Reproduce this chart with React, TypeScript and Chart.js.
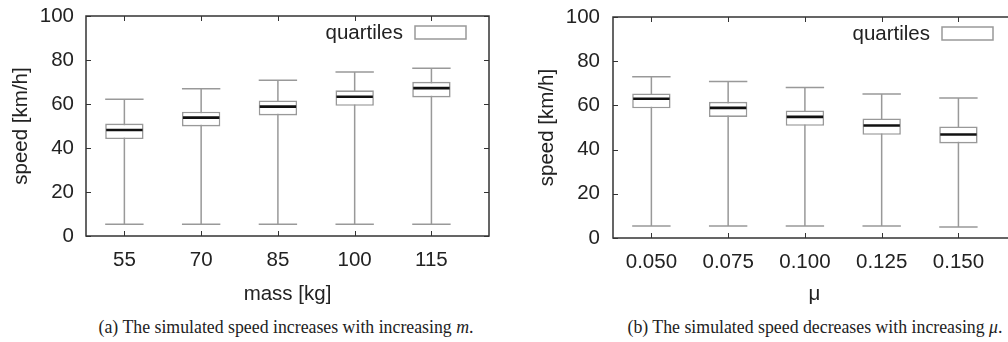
import React, { useEffect, useRef } from 'react';
import { Chart, registerables } from 'chart.js';

Chart.register(...registerables);

// ---- data: panel (a) mass ----
const massCategories = ['55', '70', '85', '100', '115'];
const massWhiskerLow = [5.3, 5.3, 5.3, 5.3, 5.3];
const massQ1 = [44.1, 49.8, 54.8, 59.2, 63.0];
const massMedian = [48.2, 53.8, 58.8, 63.3, 67.2];
const massQ3 = [51.1, 56.5, 61.6, 66.2, 70.1];
const massWhiskerHigh = [62.2, 66.9, 70.8, 74.6, 76.3];

// ---- data: panel (b) mu ----
const muCategories = ['0.050', '0.075', '0.100', '0.125', '0.150'];
const muWhiskerLow = [5.4, 5.4, 5.4, 5.4, 5.0];
const muQ1 = [58.7, 54.8, 50.8, 46.7, 42.8];
const muMedian = [63.0, 58.9, 54.8, 50.9, 46.8];
const muQ3 = [65.4, 61.6, 57.7, 54.1, 50.5];
const muWhiskerHigh = [73.0, 70.8, 68.1, 65.2, 63.3];

const yTickValues = [0, 20, 40, 60, 80, 100];
const legendLabel = 'quartiles';

const FONT = '"Liberation Sans", Arial, Helvetica, sans-serif';
const TEXT = '#222';
const BOX = '#999';

type PanelProps = {
  categories: string[];
  low: number[];
  q1: number[];
  median: number[];
  q3: number[];
  high: number[];
  xTitle: string;
  areaTop: number;
  areaBottom: number;
  yTitlePad: number;
  yTickPad: number;
};

const W = 527;
const H = 310;

function BoxPanel(p: PanelProps) {
  const ref = useRef<HTMLCanvasElement>(null);
  useEffect(() => {
    if (!ref.current) return;
    const plugin = {
      id: 'boxExtras',
      beforeDatasetsDraw(chart: any) {
        const { ctx } = chart;
        const y = chart.scales.y;
        const meta = chart.getDatasetMeta(0);
        ctx.save();
        ctx.strokeStyle = BOX;
        ctx.lineWidth = 1.5;
        meta.data.forEach((el: any, i: number) => {
          const { x, width } = el.getProps(['x', 'width'], true);
          const yl = y.getPixelForValue(p.low[i]);
          const yh = y.getPixelForValue(p.high[i]);
          ctx.beginPath();
          ctx.moveTo(x, yl);
          ctx.lineTo(x, yh);
          ctx.moveTo(x - width / 2, yl);
          ctx.lineTo(x + width / 2, yl);
          ctx.moveTo(x - width / 2, yh);
          ctx.lineTo(x + width / 2, yh);
          ctx.stroke();
        });
        ctx.restore();
      },
      afterDatasetsDraw(chart: any) {
        const { ctx } = chart;
        const y = chart.scales.y;
        const meta = chart.getDatasetMeta(0);
        ctx.save();
        ctx.strokeStyle = '#111';
        ctx.lineWidth = 2.6;
        meta.data.forEach((el: any, i: number) => {
          const { x, width } = el.getProps(['x', 'width'], true);
          const ym = y.getPixelForValue(p.median[i]);
          ctx.beginPath();
          ctx.moveTo(x - width / 2 + 1, ym);
          ctx.lineTo(x + width / 2 - 1, ym);
          ctx.stroke();
        });
        ctx.restore();
      },
      afterDraw(chart: any) {
        const { ctx, chartArea: a } = chart;
        const xs = chart.scales.x;
        const ys = chart.scales.y;
        ctx.save();
        ctx.strokeStyle = '#333';
        ctx.lineWidth = 1.5;
        ctx.strokeRect(a.left, a.top, a.right - a.left, a.bottom - a.top);
        ctx.lineWidth = 1;
        ctx.beginPath();
        xs.ticks.forEach((t: any) => {
          const px = Math.round(xs.getPixelForValue(t.value)) + 0.5;
          ctx.moveTo(px, a.bottom);
          ctx.lineTo(px, a.bottom - 5);
          ctx.moveTo(px, a.top);
          ctx.lineTo(px, a.top + 5);
        });
        ys.ticks.forEach((t: any) => {
          const py = Math.round(ys.getPixelForValue(t.value)) + 0.5;
          ctx.moveTo(a.left, py);
          ctx.lineTo(a.left + 5, py);
          ctx.moveTo(a.right, py);
          ctx.lineTo(a.right - 5, py);
        });
        ctx.stroke();
        // legend
        const bw = 51;
        const bh = 13;
        const bx = a.right - 23 - bw;
        const by = a.top + 10;
        ctx.fillStyle = '#fff';
        ctx.fillRect(bx, by, bw, bh);
        ctx.strokeStyle = BOX;
        ctx.lineWidth = 1.5;
        ctx.strokeRect(bx, by, bw, bh);
        ctx.fillStyle = TEXT;
        ctx.font = `20.5px ${FONT}`;
        ctx.textAlign = 'right';
        ctx.textBaseline = 'middle';
        ctx.fillText(chart.data.datasets[0].label, bx - 12, by + bh / 2 + 1);
        ctx.restore();
      },
    };

    const chart = new Chart(ref.current, {
      type: 'bar',
      data: {
        datasets: [
          {
            label: legendLabel,
            data: p.categories.map((_, i) => ({ x: i, y: [p.q1[i], p.q3[i]] })) as any,
            backgroundColor: '#fff',
            borderColor: BOX,
            borderWidth: 1.6,
            borderSkipped: false,
            categoryPercentage: 1,
            barPercentage: 0.5,
          },
        ],
      },
      options: {
        animation: false,
        responsive: false,
        events: [],
        layout: { padding: { top: p.areaTop, right: 38, left: 0, bottom: 0 } },
        plugins: { legend: { display: false }, tooltip: { enabled: false } },
        scales: {
          x: {
            type: 'linear',
            min: -0.5,
            max: 4.75,
            offset: false,
            grid: { display: false, drawTicks: false, offset: false },
            border: { display: false },
            afterBuildTicks: (s: any) => {
              s.ticks = p.categories.map((_, i) => ({ value: i }));
            },
            afterFit: (s: any) => {
              s.height = H - p.areaBottom;
              s.paddingLeft = 0;
              s.paddingRight = 0;
            },
            ticks: {
              autoSkip: false,
              maxRotation: 0,
              padding: 12,
              color: TEXT,
              font: { family: FONT, size: 20.5 },
              callback: (_v: any, i: number) => p.categories[i],
            },
            title: {
              display: true,
              text: p.xTitle,
              color: TEXT,
              font: { family: FONT, size: 20.5 },
              padding: { top: 0, bottom: 3 },
            },
          },
          y: {
            type: 'linear',
            min: 0,
            max: 100,
            grid: { display: false, drawTicks: false },
            border: { display: false },
            afterBuildTicks: (s: any) => {
              s.ticks = yTickValues.map((v) => ({ value: v }));
            },
            afterFit: (s: any) => {
              s.width = 86;
              s.paddingTop = 0;
              s.paddingBottom = 0;
            },
            ticks: {
              padding: p.yTickPad,
              color: TEXT,
              font: { family: FONT, size: 20.5 },
            },
            title: {
              display: true,
              text: 'speed [km/h]',
              color: TEXT,
              font: { family: FONT, size: 20.5 },
              padding: { top: p.yTitlePad, bottom: 0 },
            },
          },
        },
      },
      plugins: [plugin],
    });
    return () => chart.destroy();
  }, []);
  return <canvas ref={ref} width={W} height={H} style={{ width: W, height: H, display: 'block' }} />;
}

const captionStyle: React.CSSProperties = {
  position: 'absolute',
  top: 317,
  transform: 'translateX(-50%)',
  whiteSpace: 'nowrap',
  fontFamily: '"Liberation Serif", "Times New Roman", serif',
  fontSize: 17.8,
  lineHeight: '20px',
  color: TEXT,
};

export default function App() {
  return (
    <div
      style={{
        position: 'fixed',
        left: 0,
        top: 0,
        width: 1008,
        height: 342,
        overflow: 'hidden',
        background: '#fff',
      }}
    >
      <div style={{ position: 'absolute', left: 0, top: 0, width: W, height: H }}>
        <BoxPanel
          categories={massCategories}
          low={massWhiskerLow}
          q1={massQ1}
          median={massMedian}
          q3={massQ3}
          high={massWhiskerHigh}
          xTitle="mass [kg]"
          areaTop={16}
          areaBottom={236}
          yTitlePad={9}
          yTickPad={12}
        />
      </div>
      <div style={{ position: 'absolute', left: 527, top: 0, width: W, height: H }}>
        <BoxPanel
          categories={muCategories}
          low={muWhiskerLow}
          q1={muQ1}
          median={muMedian}
          q3={muQ3}
          high={muWhiskerHigh}
          xTitle="μ"
          areaTop={17}
          areaBottom={238}
          yTitlePad={8}
          yTickPad={13}
        />
      </div>
      <div style={{ ...captionStyle, left: 286 }}>
        (a) The simulated speed increases with increasing <i>m</i>.
      </div>
      <div style={{ ...captionStyle, left: 815 }}>
        (b) The simulated speed decreases with increasing <i>μ</i>.
      </div>
    </div>
  );
}
